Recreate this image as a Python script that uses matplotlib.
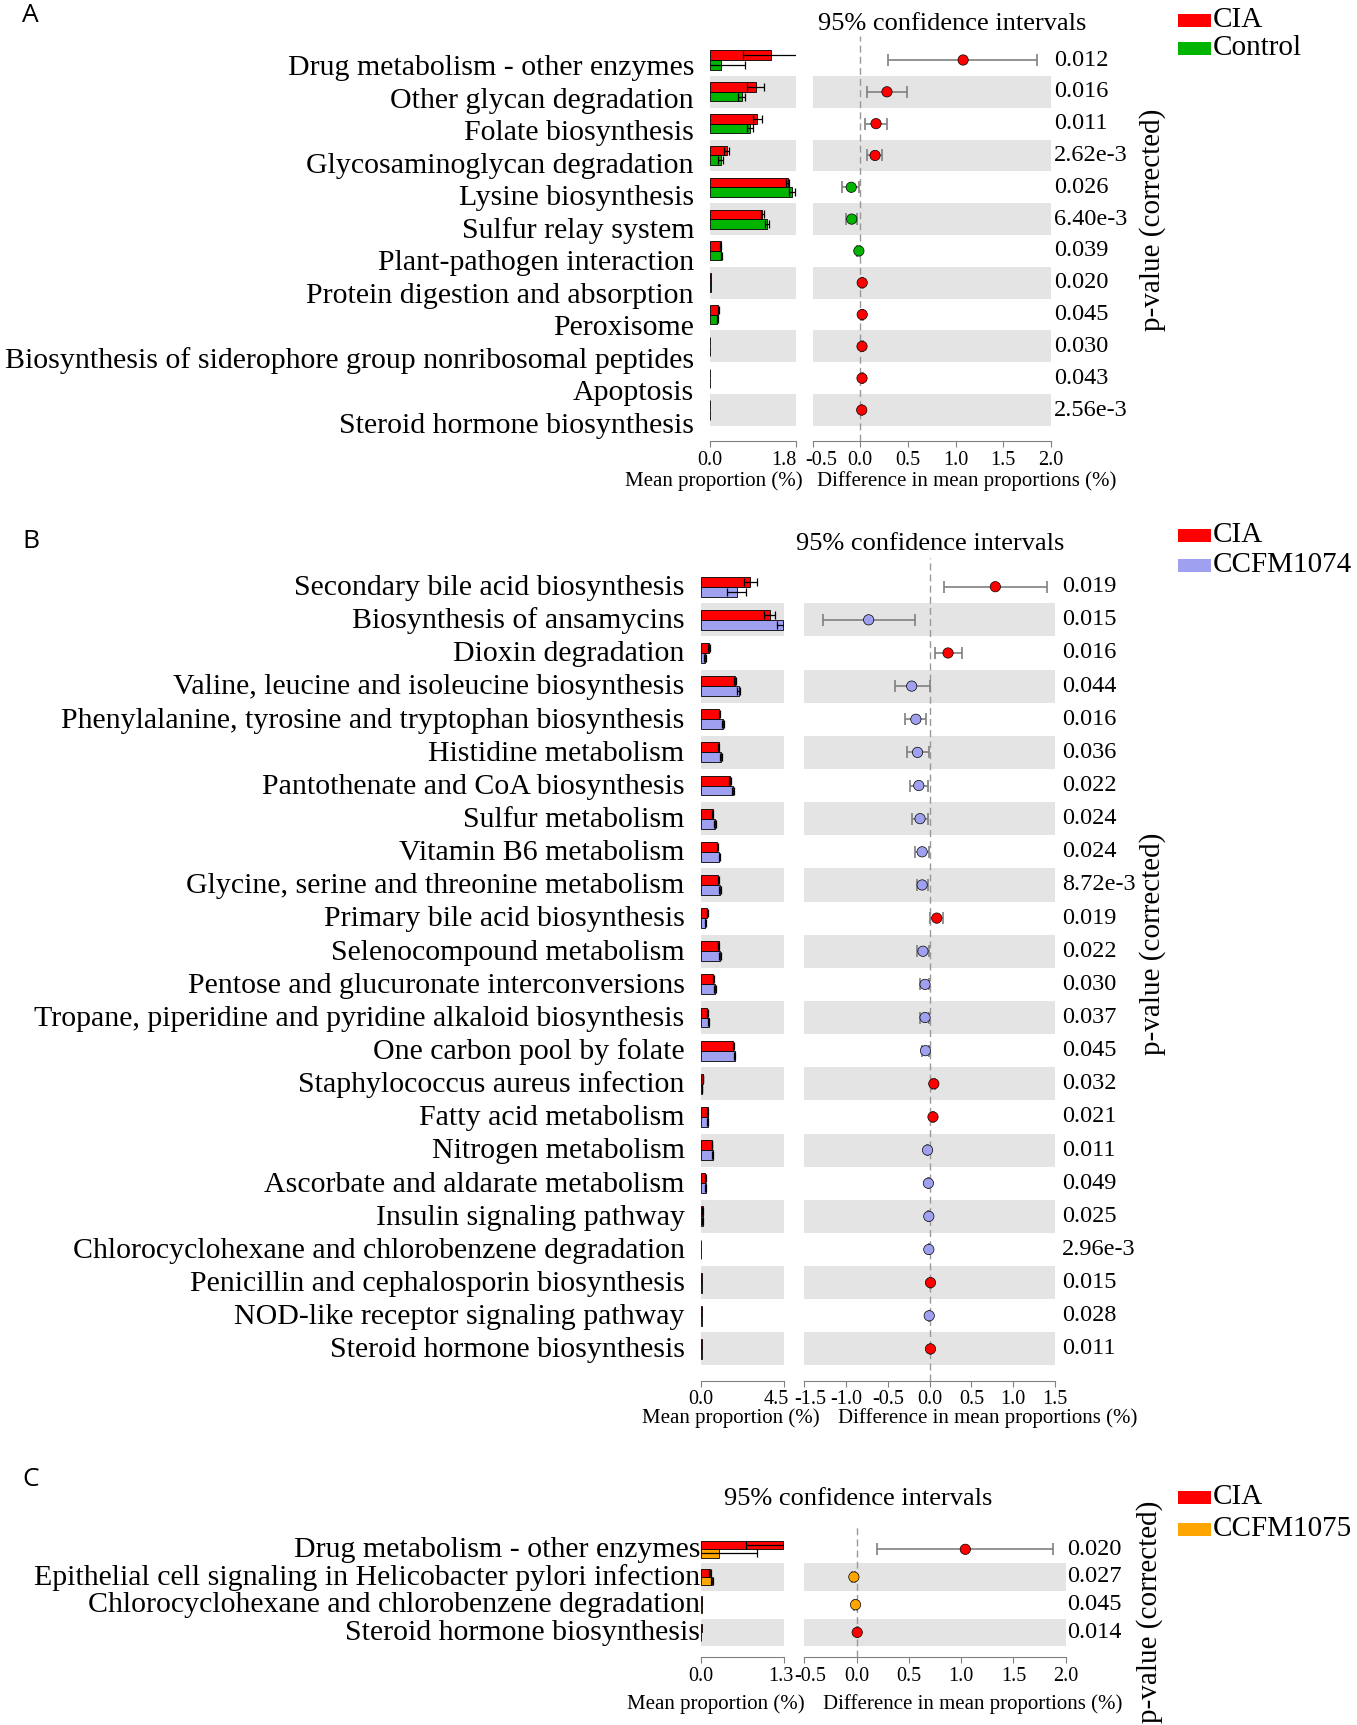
import matplotlib.pyplot as plt
from matplotlib.patches import Rectangle
from matplotlib import transforms

plt.rcParams['font.family'] = ['Liberation Serif', 'DejaVu Serif']

W, H = 1357, 1725

# ---- Panel A: CIA vs Control
a_cats = ["Drug metabolism - other enzymes", "Other glycan degradation", "Folate biosynthesis",
          "Glycosaminoglycan degradation", "Lysine biosynthesis", "Sulfur relay system",
          "Plant-pathogen interaction", "Protein digestion and absorption", "Peroxisome",
          "Biosynthesis of siderophore group nonribosomal peptides", "Apoptosis",
          "Steroid hormone biosynthesis"]
a_cia = [1.27, 0.96, 0.99, 0.35, 1.63, 1.09, 0.22, 0.02, 0.17, 0.01, 0.01, 0.01]
a_cia_sd = [0.58, 0.18, 0.09, 0.05, 0.03, 0.03, 0.01, 0, 0.01, 0, 0, 0]
a_ctrl = [0.22, 0.66, 0.84, 0.22, 1.71, 1.19, 0.24, 0.015, 0.155, 0.01, 0.01, 0.01]
a_ctrl_sd = [0.52, 0.08, 0.06, 0.05, 0.06, 0.04, 0.01, 0, 0.01, 0, 0, 0]
a_diff = [1.08, 0.28, 0.165, 0.155, -0.095, -0.09, -0.015, 0.02, 0.02, 0.018, 0.018, 0.015]
a_lo = [0.29, 0.07, 0.05, 0.07, -0.19, -0.15, -0.03, 0.01, 0.01, 0.01, 0.01, 0.008]
a_hi = [1.86, 0.49, 0.28, 0.23, -0.01, -0.03, 0.0, 0.03, 0.03, 0.026, 0.026, 0.022]
a_p = ["0.012", "0.016", "0.011", "2.62e-3", "0.026", "6.40e-3", "0.039", "0.020",
       "0.045", "0.030", "0.043", "2.56e-3"]

# ---- Panel B: CIA vs CCFM1074
b_cats = ["Secondary bile acid biosynthesis", "Biosynthesis of ansamycins", "Dioxin degradation",
          "Valine, leucine and isoleucine biosynthesis",
          "Phenylalanine, tyrosine and tryptophan biosynthesis", "Histidine metabolism",
          "Pantothenate and CoA biosynthesis", "Sulfur metabolism", "Vitamin B6 metabolism",
          "Glycine, serine and threonine metabolism", "Primary bile acid biosynthesis",
          "Selenocompound metabolism", "Pentose and glucuronate interconversions",
          "Tropane, piperidine and pyridine alkaloid biosynthesis", "One carbon pool by folate",
          "Staphylococcus aureus infection", "Fatty acid metabolism", "Nitrogen metabolism",
          "Ascorbate and aldarate metabolism", "Insulin signaling pathway",
          "Chlorocyclohexane and chlorobenzene degradation",
          "Penicillin and cephalosporin biosynthesis", "NOD-like receptor signaling pathway",
          "Steroid hormone biosynthesis"]
b_cia = [2.68, 3.72, 0.42, 1.83, 0.99, 0.96, 1.56, 0.63, 0.89, 0.94, 0.33, 0.96, 0.67,
         0.34, 1.75, 0.10, 0.36, 0.60, 0.24, 0.09, 0.02, 0.03, 0.07, 0.03]
b_cia_sd = [0.34, 0.29, 0.05, 0.06, 0.04, 0.04, 0.04, 0.03, 0.03, 0.03, 0.03, 0.03, 0.03,
            0.03, 0.03, 0.01, 0.01, 0.01, 0.01, 0.01, 0, 0, 0, 0]
b_ccfm = [1.93, 4.46, 0.20, 2.04, 1.18, 1.10, 1.72, 0.78, 0.99, 1.03, 0.24, 1.03, 0.76,
          0.42, 1.84, 0.06, 0.36, 0.63, 0.25, 0.09, 0.02, 0.03, 0.07, 0.03]
b_ccfm_sd = [0.5, 0.35, 0.05, 0.1, 0.05, 0.05, 0.05, 0.05, 0.03, 0.03, 0.03, 0.03, 0.03,
             0.03, 0.03, 0.01, 0.01, 0.01, 0.01, 0.01, 0, 0, 0, 0]
b_diff = [0.786, -0.73, 0.22, -0.215, -0.165, -0.145, -0.13, -0.115, -0.09, -0.09, 0.085,
          -0.08, -0.055, -0.055, -0.05, 0.05, 0.04, -0.025, -0.015, -0.01, -0.01, 0.01,
          -0.005, 0.01]
b_lo = [0.17, -1.28, 0.06, -0.42, -0.29, -0.275, -0.24, -0.21, -0.17, -0.155, 0.01, -0.155,
        -0.115, -0.115, -0.09, 0.03, 0.025, -0.035, -0.02, -0.015, -0.013, 0.005, -0.008, 0.006]
b_hi = [1.41, -0.17, 0.39, 0.0, -0.04, -0.01, -0.02, -0.015, -0.01, -0.025, 0.165, -0.01,
        -0.005, -0.005, -0.01, 0.07, 0.055, -0.015, -0.01, -0.005, -0.007, 0.015, -0.002, 0.014]
b_p = ["0.019", "0.015", "0.016", "0.044", "0.016", "0.036", "0.022", "0.024", "0.024",
       "8.72e-3", "0.019", "0.022", "0.030", "0.037", "0.045", "0.032", "0.021", "0.011",
       "0.049", "0.025", "2.96e-3", "0.015", "0.028", "0.011"]

# ---- Panel C: CIA vs CCFM1075
c_cats = ["Drug metabolism - other enzymes",
          "Epithelial cell signaling in Helicobacter pylori infection",
          "Chlorocyclohexane and chlorobenzene degradation", "Steroid hormone biosynthesis"]
c_cia = [1.29, 0.14, 0.01, 0.01]
c_cia_sd = [0.58, 0.01, 0, 0]
c_ccfm = [0.28, 0.17, 0.015, 0.005]
c_ccfm_sd = [0.59, 0.02, 0, 0]
c_diff = [1.04, -0.026, -0.01, 0.006]
c_lo = [0.2, -0.04, -0.02, 0.0]
c_hi = [1.88, -0.012, 0.0, 0.012]
c_p = ["0.020", "0.027", "0.045", "0.014"]

RED = '#FF0000'
BAND = '#E4E4E4'
fig = plt.figure(figsize=(W / 100, H / 100), dpi=100)


def px_axes(left, top, right, bottom):
    return fig.add_axes([left / W, 1 - bottom / H, (right - left) / W, (bottom - top) / H])


def ftext(x, y, s, **kw):
    fig.text(x / W, 1 - y / H, s, **kw)


def style_axis(ax):
    for s in ['left', 'right', 'top']:
        ax.spines[s].set_visible(False)
    ax.spines['bottom'].set_color('#808080')
    ax.tick_params(axis='x', colors='#808080', length=4, labelsize=14.5, labelcolor='black', pad=3)
    ax.tick_params(axis='y', left=False, labelleft=False)


def shift_label(lab, dx):
    lab.set_transform(lab.get_transform() + transforms.ScaledTranslation(dx / 100, 0, fig.dpi_scale_trans))


def panel(letter, name2, color2, cats, m1, s1, m2, s2, diff, lo, hi, pvals, g):
    n = len(cats)
    rows = list(range(n))
    y0, sp = g['row0'], g['sp']
    ylim = ((g['bottom'] - y0) / sp, (g['top'] - y0) / sp)

    axb = px_axes(g['bar'][0], g['top'], g['bar'][1], g['bottom'])
    axc = px_axes(g['ci'][0], g['top'], g['ci'][1], g['bottom'])
    for ax in (axb, axc):
        ax.set_ylim(*ylim)
        for i in rows[1::2]:
            ax.axhspan(i - 0.5, i + 0.5, color=BAND, lw=0, zorder=0)
        style_axis(ax)

    # mean proportions
    axb.set_xlim(0, g['xmax'])
    axb.set_xticks([0, g['xmax']])
    axb.set_xticklabels(['0.0', '%.1f' % g['xmax']])
    y1 = [i - 0.15 for i in rows]
    y2 = [i + 0.15 for i in rows]
    axb.barh(y1, m1, height=0.3, color=RED, edgecolor='black', lw=0.6, zorder=2)
    axb.barh(y2, m2, height=0.3, color=color2, edgecolor='black', lw=0.6, zorder=2)
    for ys, m, s in ((y1, m1, s1), (y2, m2, s2)):
        keep = [k for k in rows if s[k] > 0]
        axb.errorbar([m[k] for k in keep], [ys[k] for k in keep], xerr=[s[k] for k in keep],
                     fmt='none', ecolor='black', elinewidth=0.9, capsize=3, capthick=0.9, zorder=3)

    # confidence intervals
    axc.set_xlim(*g['cixlim'])
    axc.set_xticks(g['citicks'])
    axc.set_xticklabels(['%.1f' % t for t in g['citicks']])
    axc.axvline(0, color='#999999', ls=(0, (5, 3)), lw=1, zorder=1)
    xerr = [[d - l for d, l in zip(diff, lo)], [h - d for d, h in zip(diff, hi)]]
    axc.errorbar(diff, rows, xerr=xerr, fmt='none', ecolor='#808080', elinewidth=1.2,
                 capsize=4, capthick=1.2, zorder=2)
    cols = [RED if d > 0 else color2 for d in diff]
    axc.scatter(diff, rows, s=55, c=cols, edgecolors='black', linewidths=0.5, zorder=3)

    # squeeze the two touching tick labels apart like the original
    shift_label(axb.get_xticklabels()[-1], g['tick_dx'][0])
    shift_label(axc.get_xticklabels()[0], g['tick_dx'][1])

    # category labels and p-values
    tp = transforms.blended_transform_factory(fig.transFigure, axb.transData)
    for i in rows:
        base = g['lab_y0'] + i * g['lab_sp']
        ftext(g['lab_x'], base, cats[i], ha='right', va='baseline', fontsize=21.5)
        axb.text(g['p_x'] / W, i, pvals[i], transform=tp, ha='left', va='center',
                 fontsize=17.5)

    ftext(g['title'][0], g['title'][1], '95% confidence intervals', ha='center', va='center',
          fontsize=19)
    ftext(g['pv'][0], g['pv'][1], 'p-value (corrected)', rotation=90, ha='center',
          va='center', fontsize=21)
    ftext(g['mp_r'], g['xl_y'], 'Mean proportion (%)', ha='right', va='center', fontsize=15)
    ftext(g['dm_l'], g['xl_y'], 'Difference in mean proportions (%)', ha='left',
          va='center', fontsize=15)
    ftext(22, g['letter_y'], letter, family='Open Sans', ha='left', va='center', fontsize=19)

    for (lab, col), ly in zip([('CIA', RED), (name2, color2)], g['leg_y']):
        fig.add_artist(Rectangle((1178 / W, 1 - (ly + 6.5) / H), 33 / W, 13 / H,
                                 transform=fig.transFigure, color=col, lw=0))
        ftext(1213, ly, lab, ha='left', va='center', fontsize=21)


panel('A', 'Control', '#00B400', a_cats, a_cia, a_cia_sd, a_ctrl, a_ctrl_sd,
      a_diff, a_lo, a_hi, a_p,
      dict(bar=(710, 796), ci=(812.7, 1050.7), row0=60, sp=31.82, top=36, bottom=441,
           xmax=1.8, cixlim=(-0.5, 2.0), citicks=[-0.5, 0, 0.5, 1.0, 1.5, 2.0],
           tick_dx=(-12, 8), lab_x=694, lab_y0=75, lab_sp=32.55, p_x=1054,
           title=(952, 24), pv=(1153, 220), mp_r=803, dm_l=817, xl_y=481,
           letter_y=16, leg_y=(20, 48)))

panel('B', 'CCFM1074', '#A0A0F0', b_cats, b_cia, b_cia_sd, b_ccfm, b_ccfm_sd,
      b_diff, b_lo, b_hi, b_p,
      dict(bar=(701, 784), ci=(804.3, 1055), row0=586.7, sp=33.14, top=558, bottom=1380.5,
           xmax=4.5, cixlim=(-1.5, 1.5), citicks=[-1.5, -1.0, -0.5, 0, 0.5, 1.0, 1.5],
           tick_dx=(-8, 6), lab_x=684.6, lab_y0=595, lab_sp=33.14, p_x=1062,
           title=(930, 544), pv=(1153, 944), mp_r=820, dm_l=837.5, xl_y=1418,
           letter_y=541, leg_y=(535, 565)))

panel('C', 'CCFM1075', '#FFA500', c_cats, c_cia, c_cia_sd, c_ccfm, c_ccfm_sd,
      c_diff, c_lo, c_hi, c_p,
      dict(bar=(701, 784), ci=(804.3, 1065.7), row0=1549.3, sp=27.7, top=1527, bottom=1657.3,
           xmax=1.3, cixlim=(-0.5, 2.0), citicks=[-0.5, 0, 0.5, 1.0, 1.5, 2.0],
           tick_dx=(-3, 6), lab_x=700, lab_y0=1557, lab_sp=27.7, p_x=1066.7,
           title=(858, 1499), pv=(1150, 1612), mp_r=804.5, dm_l=823, xl_y=1704,
           letter_y=1480, leg_y=(1497, 1529)))

fig.savefig('out.png', dpi=100)
